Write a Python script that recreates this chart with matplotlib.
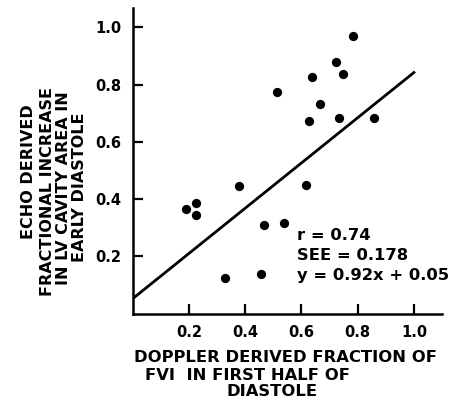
import matplotlib
matplotlib.use("Agg")
import matplotlib.pyplot as plt

# Data
doppler = [0.784, 0.724, 0.748, 0.636, 0.514, 0.666, 0.627, 0.735, 0.857,
           0.379, 0.617, 0.190, 0.227, 0.224, 0.467, 0.537, 0.329, 0.458]
echo = [0.970, 0.878, 0.838, 0.826, 0.775, 0.733, 0.673, 0.682, 0.682,
        0.445, 0.450, 0.366, 0.386, 0.343, 0.308, 0.317, 0.126, 0.139]
line_x = [0.0, 1.0]
line_y = [0.052, 0.842]
xticks = [0.2, 0.4, 0.6, 0.8, 1.0]
yticks = [0.2, 0.4, 0.6, 0.8, 1.0]
stats_text = ["r = 0.74", "SEE = 0.178", "y = 0.92x + 0.05"]
ylabel_lines = ["ECHO DERIVED", "FRACTIONAL INCREASE", "IN LV CAVITY AREA IN", "EARLY DIASTOLE"]
xlabel_lines = ["DOPPLER DERIVED FRACTION OF", "FVI  IN FIRST HALF OF", "DIASTOLE"]

plt.rcParams['font.family'] = ['DejaVu Sans']
plt.rcParams['font.weight'] = 'bold'

fig = plt.figure(figsize=(4.59, 3.99), dpi=100)
ax = fig.add_axes([0.289, 0.214, 0.674, 0.765])

ax.scatter(doppler, echo, s=32, color='black', zorder=3)
ax.plot(line_x, line_y, color='black', lw=2.0)

ax.set_xlim(0, 1.10)
ax.set_ylim(0, 1.066)
ax.spines['top'].set_visible(False)
ax.spines['right'].set_visible(False)
for s in ['left', 'bottom']:
    ax.spines[s].set_linewidth(1.8)
ax.set_xticks(xticks)
ax.set_yticks(yticks)
ax.set_xticklabels([f"{v:.1f}" for v in xticks], fontsize=10.5, fontweight='bold')
ax.set_yticklabels([f"{v:.1f}" for v in yticks], fontsize=10.5, fontweight='bold')
ax.tick_params(direction='in', length=7, width=1.6, pad=8)

ys = [0.272, 0.203, 0.133]
for t, yy in zip(stats_text, ys):
    ax.text(0.583, yy, t, fontsize=11.8, fontweight='bold', va='center', ha='left')

# y label (one text per line, as laid out in the reference)
ylab_x = [29, 48, 64, 80]
ylab_y = [172, 191, 188, 187]
for t, px, py in zip(ylabel_lines, ylab_x, ylab_y):
    fig.text(px / 459, 1 - py / 399, t, rotation=90, ha='center', va='center',
             fontsize=11.5, fontweight='bold')

# x label
fig.text(286/459, 1 - 358/399, xlabel_lines[0], ha='center', va='center',
         fontsize=11.8, fontweight='bold')
fig.text(145/459, 1 - 376/399, xlabel_lines[1], ha='left', va='center',
         fontsize=11.8, fontweight='bold')
fig.text(272/459, 1 - 392/399, xlabel_lines[2], ha='center', va='center',
         fontsize=11.8, fontweight='bold')

fig.savefig("out.png", dpi=100)
